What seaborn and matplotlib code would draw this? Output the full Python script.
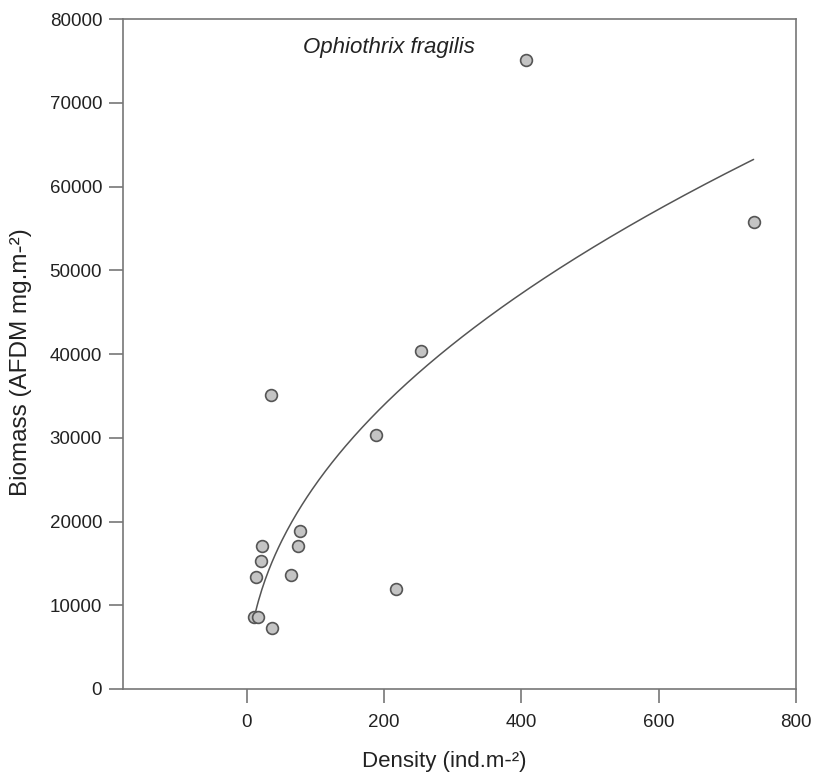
import numpy as np
import pandas as pd
import matplotlib
matplotlib.use("Agg")
import matplotlib.pyplot as plt
import seaborn as sns

# Data
density = [407, 738, 254, 188, 36, 78, 22, 75, 21, 13, 65, 217, 10, 16, 37]
biomass = [75150, 55830, 40400, 30360, 35140, 18910, 17120, 17120, 15260,
           13380, 13660, 11980, 8600, 8600, 7250]
# Power-law fit (biomass = a * density^b), parameters
fit_a = 2710
fit_b = 0.477
x_ticks = [0, 200, 400, 600, 800]
y_ticks = [0, 10000, 20000, 30000, 40000, 50000, 60000, 70000, 80000]
species = "Ophiothrix fragilis"

sns.set_theme(style="ticks")
plt.rcParams['font.family'] = ['Liberation Sans', 'DejaVu Sans']

df = pd.DataFrame({"Density": density, "Biomass": biomass})
xs = np.linspace(min(density), max(density), 300)
fit_df = pd.DataFrame({"Density": xs, "Biomass": fit_a * xs ** fit_b})

fig = plt.figure(figsize=(8.14, 7.78), dpi=100)
ax = fig.add_axes([0.1511, 0.1144, 0.827, 0.861])

sns.lineplot(data=fit_df, x="Density", y="Biomass", ax=ax, color="#555555",
             linewidth=1.1)
sns.scatterplot(data=df, x="Density", y="Biomass", ax=ax, s=72,
                color="#c4c4c4", edgecolor="#555555", linewidth=1.2, zorder=3)

ax.set_xlim(-180, 800)
ax.set_ylim(0, 80000)
ax.set_xticks(x_ticks)
ax.set_yticks(y_ticks)
ax.set_xticklabels([str(t) for t in x_ticks])
ax.set_yticklabels([str(t) for t in y_ticks])

for sp in ax.spines.values():
    sp.set_color("#777777")
    sp.set_linewidth(1.2)
ax.tick_params(direction="out", length=10, width=1.2, color="#777777",
               labelsize=13.5, labelcolor="#222222", pad=5)
ax.tick_params(axis="x", pad=8)

ax.set_xlabel("Density (ind.m-²)", fontsize=16, color="#222222")
ax.set_ylabel("Biomass (AFDM mg.m-²)", fontsize=17.5, color="#222222")
ax.xaxis.set_label_coords(0.477, -0.093)
ax.yaxis.set_label_coords(-0.135, 0.488)

ax.text(0.395, 0.957, species, transform=ax.transAxes, fontsize=16,
        style="italic", color="#222222", ha="center", va="center")

fig.savefig("out.png", dpi=100)
